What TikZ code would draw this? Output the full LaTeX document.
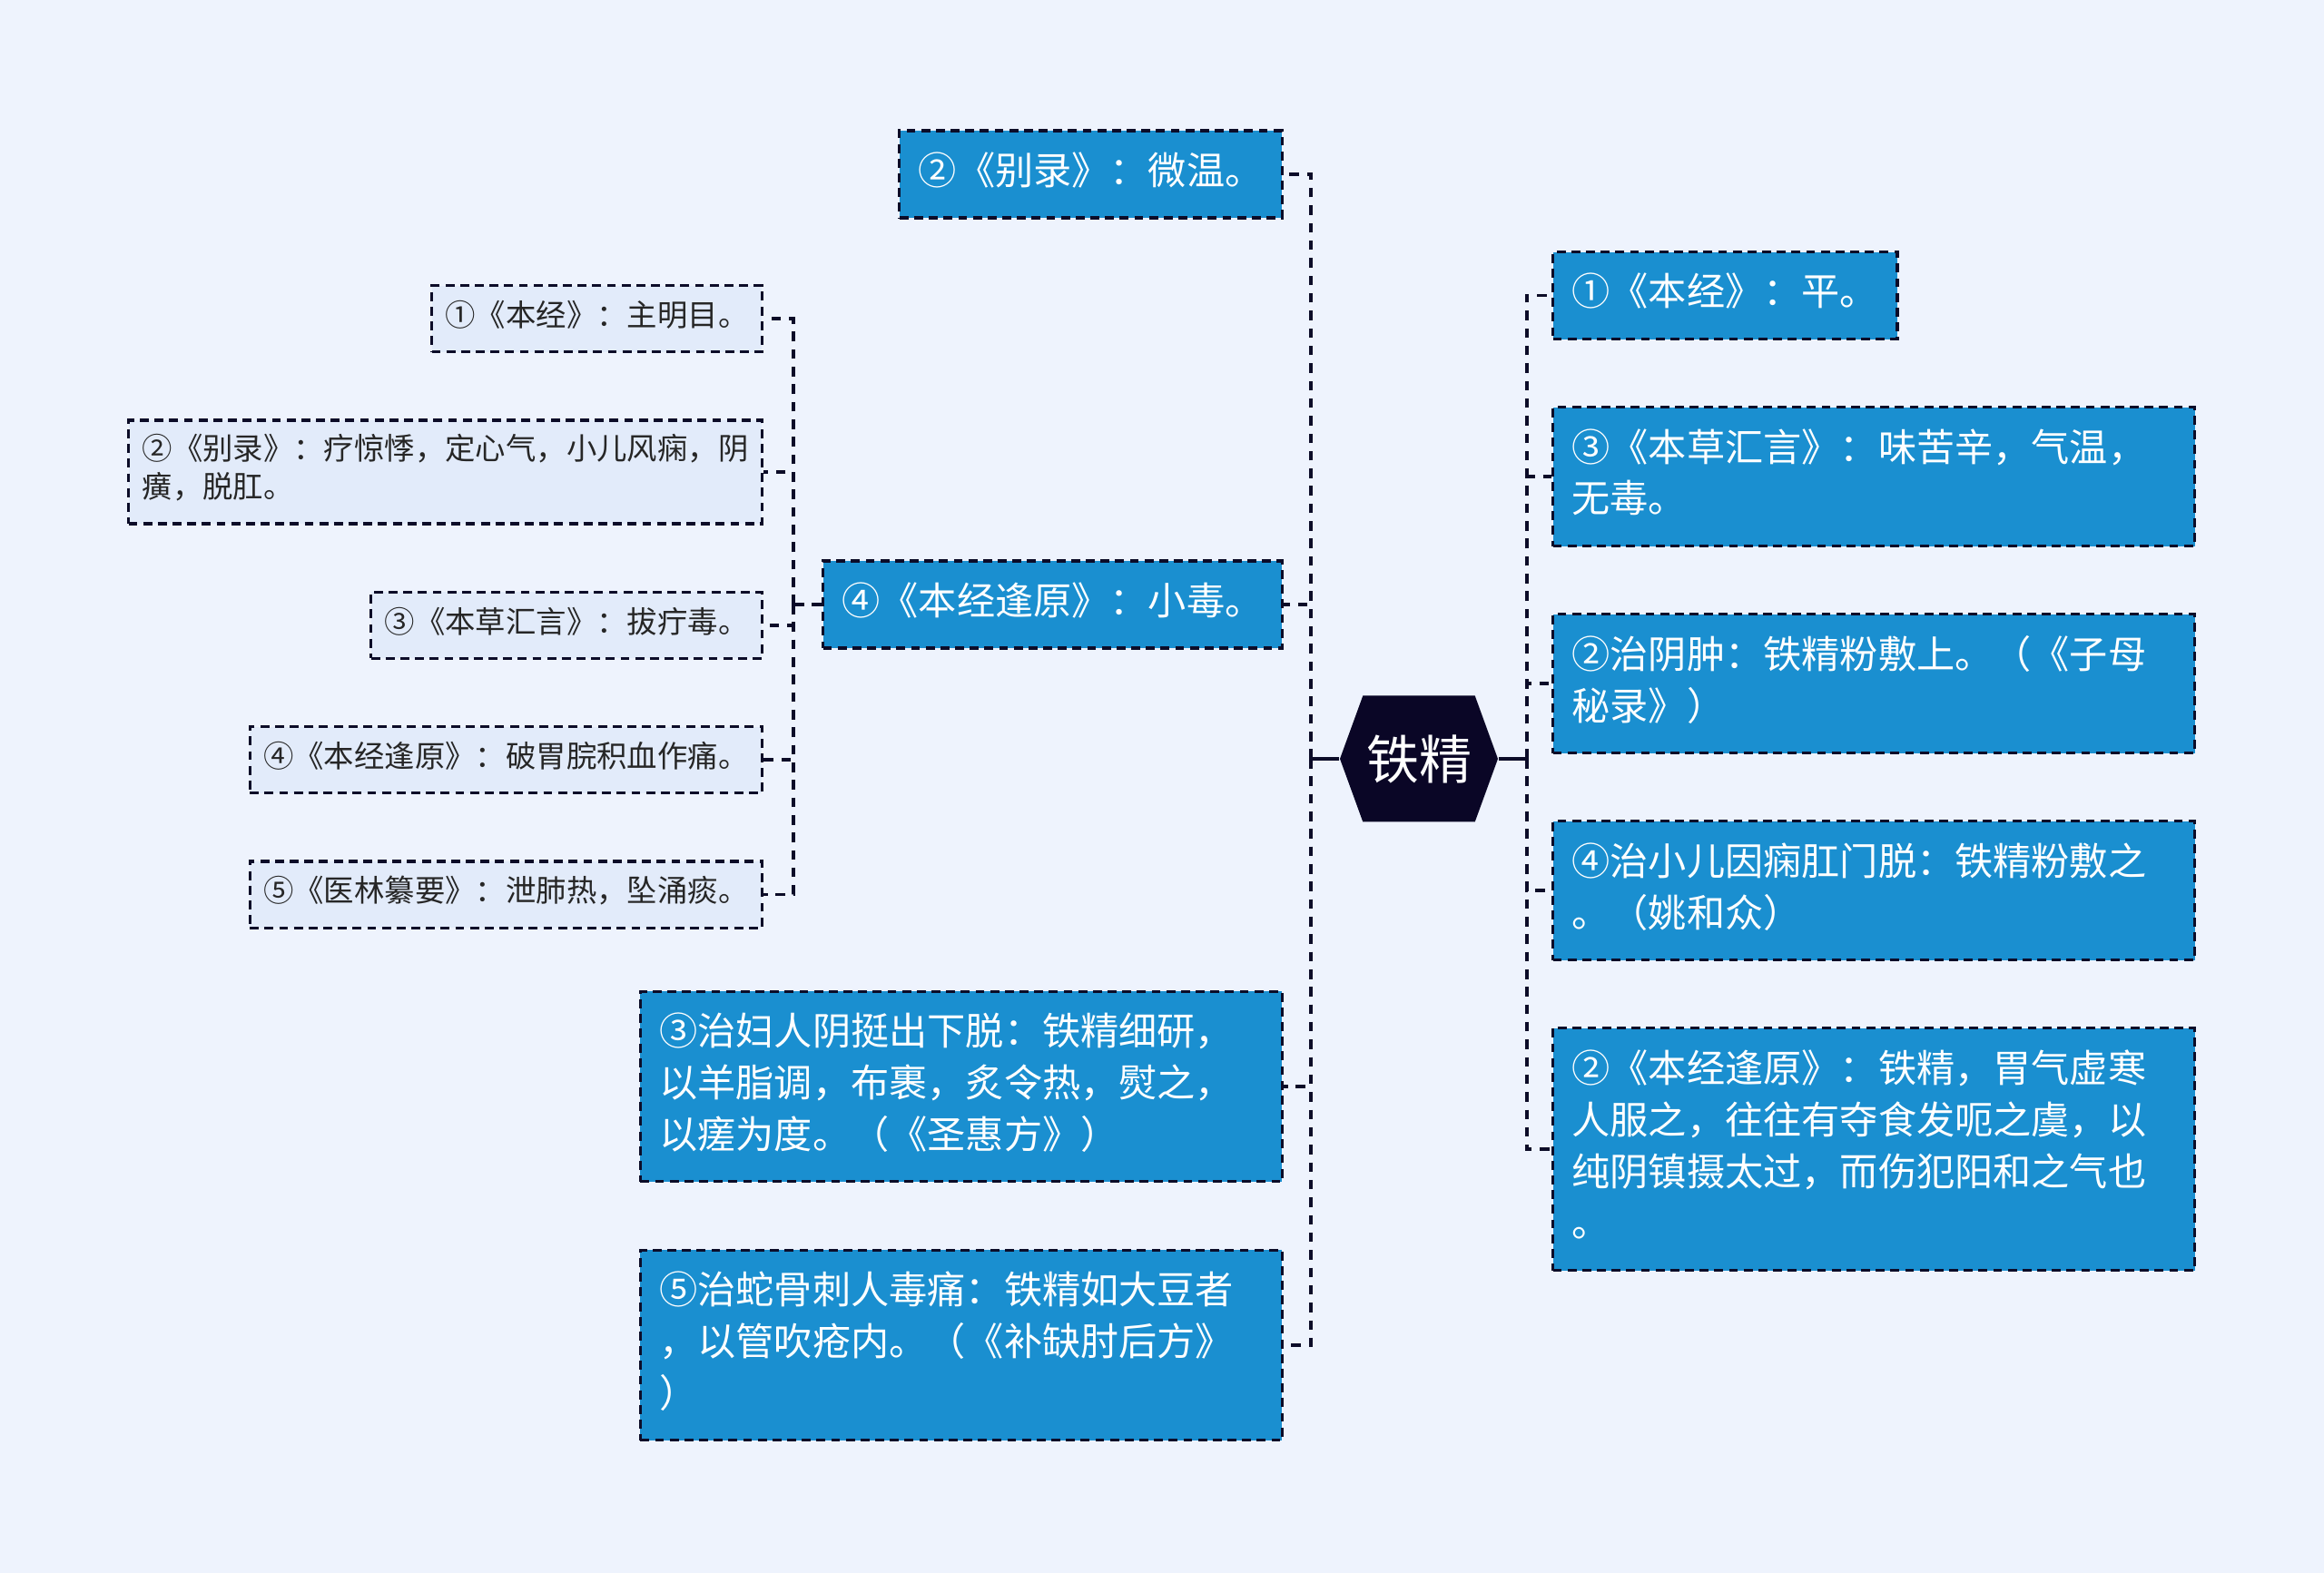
\documentclass[tikz,border=0pt]{standalone}
\usepackage{fontspec}
\setmainfont{Noto Sans CJK SC}
\usetikzlibrary{shapes.symbols, positioning}
\definecolor{cBg}{RGB}{238,243,253}
\definecolor{cBlue}{RGB}{26,143,208}
\definecolor{cPale}{RGB}{226,235,250}
\definecolor{cNavy}{RGB}{10,6,38}
\definecolor{cLine}{RGB}{12,12,40}
\tikzset{
	topic/.style   ={shape=signal, signal to=west and east, signal pointer angle=140, fill=cNavy, text=white, minimum width=1.74cm, minimum height=1.39cm, inner sep=0pt, font=\fontsize{16.5}{19}\selectfont},
	mainbox/.style ={rectangle, draw=cLine, line width=0.9pt, dash pattern=on 2.8pt off 1.8pt, fill=cBlue, text=white, align=left, inner xsep=0.21cm, inner ysep=0.195cm, font=\fontsize{12}{16.2}\selectfont, execute at begin node=\strut, execute at end node=\strut},
	widebox/.style ={mainbox, text width=6.65cm},
	subbox/.style  ={rectangle, draw=cLine, line width=0.9pt, dash pattern=on 2.8pt off 1.8pt, fill=cPale, text=black!85, align=left, inner xsep=0.15cm, inner ysep=0.157cm, font=\fontsize{9.5}{11.9}\selectfont, execute at begin node=\strut, execute at end node=\strut},
	link/.style    ={draw=cLine, line width=1.1pt, dash pattern=on 3pt off 2.5pt},
	stub/.style    ={draw=cLine, line width=1.1pt},
}
\begin{document}
\begin{tikzpicture}[node distance=0.72cm]
	\fill[cBg] (0,0) rectangle (25.6,-17.33);
	\useasboundingbox (0,0) rectangle (25.6,-17.33);
	\node[topic] (hub) at (15.63,-8.36) {铁精};
	% left branch
	\node[mainbox, anchor=east] (bl) at (14.14,-1.92) {②《别录》：微温。};
	\node[mainbox, anchor=east] (fy) at (14.14,-6.66) {④《本经逢原》：小毒。};
	\node[widebox, anchor=east] (fr) at (14.14,-11.97) {③治妇人阴挺出下脱：铁精细研，\\以羊脂调，布裹，炙令热，熨之，\\以瘥为度。（《圣惠方》）};
	\node[widebox, anchor=east] (sg) at (14.14,-14.82) {⑤治蛇骨刺人毒痛：铁精如大豆者\\，以管吹疮内。（《补缺肘后方》\\）};
	% sub items of fy
	\node[subbox, anchor=north east] (s1) at (8.41,-3.13) {①《本经》：主明目。};
	\node[subbox, below=of s1.south east, anchor=north east] (s2) {②《别录》：疗惊悸，定心气，小儿风痫，阴\\癀，脱肛。};
	\node[subbox, below=of s2.south east, anchor=north east] (s3) {③《本草汇言》：拔疔毒。};
	\node[subbox, below=of s3.south east, anchor=north east] (s4) {④《本经逢原》：破胃脘积血作痛。};
	\node[subbox, below=of s4.south east, anchor=north east] (s5) {⑤《医林纂要》：泄肺热，坠涌痰。};
	% right branch
	\node[mainbox, anchor=north west] (r1) at (17.09,-2.76) {①《本经》：平。};
	\node[widebox, below=of r1.south west, anchor=north west] (r3) {③《本草汇言》：味苦辛，气温，\\无毒。};
	\node[widebox, below=of r3.south west, anchor=north west] (r2) {②治阴肿：铁精粉敷上。（《子母\\秘录》）};
	\node[widebox, below=of r2.south west, anchor=north west] (r4) {④治小儿因痫肛门脱：铁精粉敷之\\。（姚和众）};
	\node[widebox, below=of r4.south west, anchor=north west] (r5) {②《本经逢原》：铁精，胃气虚寒\\人服之，往往有夺食发呃之虞，以\\纯阴镇摄太过，而伤犯阳和之气也\\。};
	% connectors
	\draw[stub] (hub.west) -- ++(-0.31,0) coordinate (lj);
	\draw[stub] (hub.east) -- ++(0.31,0) coordinate (rj);
	\foreach \n in {bl,fy,fr,sg} \draw[link] (lj) |- (\n.east);
	\foreach \n in {r1,r3,r2,r4,r5} \draw[link] (rj) |- (\n.west);
	\draw[link] (fy.west) -- ++(-0.31,0) coordinate (sj);
	\foreach \n in {s1,s2,s3,s4,s5} \draw[link] (sj) |- (\n.east);
\end{tikzpicture}
\end{document}
